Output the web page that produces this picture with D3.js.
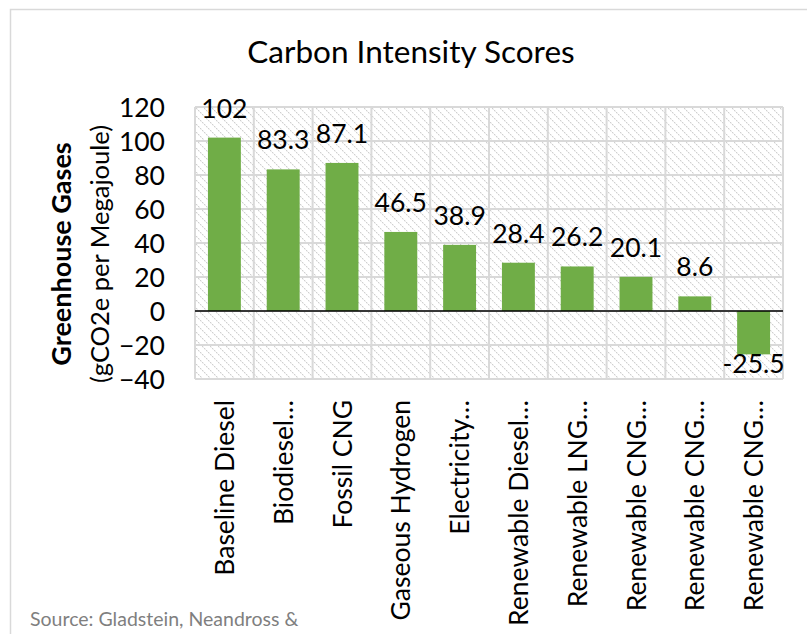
<!DOCTYPE html>
<html>
<head>
<meta charset="utf-8">
<script src="https://cdn.jsdelivr.net/npm/d3@7"></script>
<style>
  body { margin: 0; background: #fff; }
  text { font-family: Lato, "Open Sans", sans-serif; }
</style>
</head>
<body>
<div id="myDiv"></div>
<script>
// Chart data
var categories = ['Baseline Diesel', 'Biodiesel\u2026', 'Fossil CNG', 'Gaseous Hydrogen', 'Electricity\u2026',
  'Renewable Diesel\u2026', 'Renewable LNG\u2026', 'Renewable CNG\u2026', 'Renewable CNG\u2026', 'Renewable CNG\u2026'];
var values = [102, 83.3, 87.1, 46.5, 38.9, 28.4, 26.2, 20.1, 8.6, -25.5];
var valueLabels = ['102', '83.3', '87.1', '46.5', '38.9', '28.4', '26.2', '20.1', '8.6', '-25.5'];
var yTicks = [-40, -20, 0, 20, 40, 60, 80, 100, 120];

var chartTitle = 'Carbon Intensity Scores';
var yTitleBold = 'Greenhouse Gases';
var yTitleSub = '(gCO2e per Megajoule)';
var sourceText = 'Source: Gladstein, Neandross &';

var barColor = '#70ad47';
var gridColor = '#d9d9d9';
var labelSize = '26.5px';

var W = 807, H = 634;
var plot = {left: 195, top: 107, right: 783, bottom: 379};

var svg = d3.select('#myDiv').append('svg')
  .attr('width', W)
  .attr('height', H);

// hatch pattern for the plot area
var defs = svg.append('defs');
var pat = defs.append('pattern')
  .attr('id', 'hatch')
  .attr('patternUnits', 'userSpaceOnUse')
  .attr('width', 8)
  .attr('height', 8);
pat.append('rect').attr('width', 8).attr('height', 8).attr('fill', '#fff');
d3.range(0, 8, 2).forEach(function(i) {
  pat.append('rect').attr('x', i).attr('y', i).attr('width', 1.2).attr('height', 1.2).attr('fill', '#cfcfcf');
  pat.append('rect').attr('x', i + 1).attr('y', i + 1).attr('width', 1).attr('height', 1).attr('fill', '#ebebeb');
});

// outer chart border
svg.append('rect')
  .attr('x', 10.5).attr('y', 9.5)
  .attr('width', W + 20).attr('height', H + 20)
  .attr('fill', 'none')
  .attr('stroke', gridColor)
  .attr('stroke-width', 1.5);

// scales
var x = d3.scaleBand()
  .domain(d3.range(categories.length))
  .range([plot.left, plot.right])
  .paddingInner(0.44)
  .paddingOuter(0.22);

var xCell = d3.scaleBand()
  .domain(d3.range(categories.length))
  .range([plot.left, plot.right]);

var y = d3.scaleLinear()
  .domain([d3.min(yTicks), d3.max(yTicks)])
  .range([plot.bottom, plot.top]);

// plot background
svg.append('rect')
  .attr('x', plot.left).attr('y', plot.top)
  .attr('width', plot.right - plot.left)
  .attr('height', plot.bottom - plot.top)
  .attr('fill', 'url(#hatch)');

// horizontal gridlines
svg.append('g')
  .selectAll('line')
  .data(yTicks)
  .enter().append('line')
    .attr('x1', plot.left).attr('x2', plot.right)
    .attr('y1', function(d) { return y(d); })
    .attr('y2', function(d) { return y(d); })
    .attr('stroke', gridColor)
    .attr('stroke-width', 2);

// vertical gridlines (category boundaries)
var bounds = d3.range(categories.length + 1).map(function(i) {
  return i < categories.length ? xCell(i) : plot.right;
});
svg.append('g')
  .selectAll('line')
  .data(bounds)
  .enter().append('line')
    .attr('x1', function(d) { return d; })
    .attr('x2', function(d) { return d; })
    .attr('y1', plot.top).attr('y2', plot.bottom)
    .attr('stroke', gridColor)
    .attr('stroke-width', 2);

// bars
svg.append('g')
  .selectAll('rect')
  .data(values)
  .enter().append('rect')
    .attr('x', function(d, i) { return x(i); })
    .attr('y', function(d) { return y(Math.max(0, d)); })
    .attr('width', x.bandwidth())
    .attr('height', function(d) { return Math.abs(y(d) - y(0)); })
    .attr('fill', barColor);

// zero line
svg.append('line')
  .attr('x1', plot.left).attr('x2', plot.right)
  .attr('y1', y(0)).attr('y2', y(0))
  .attr('stroke', '#000')
  .attr('stroke-width', 1.5);

// data labels
svg.append('g')
  .selectAll('text')
  .data(values)
  .enter().append('text')
    .attr('x', function(d, i) { return x(i) + x.bandwidth() / 2; })
    .attr('y', function(d) { return d >= 0 ? y(d) - 20 : y(d) + 19; })
    .attr('text-anchor', 'middle')
    .style('font-size', labelSize)
    .style('fill', '#000')
    .text(function(d, i) { return valueLabels[i]; });

// y axis
var yAxisG = svg.append('g')
  .attr('transform', 'translate(' + plot.left + ',0)')
  .call(d3.axisLeft(y).tickValues(yTicks).tickSize(0).tickPadding(30));
yAxisG.select('.domain').remove();
yAxisG.selectAll('text')
  .style('font-size', labelSize)
  .style('font-family', 'Lato, sans-serif')
  .style('fill', '#000')
  .attr('dy', '0.36em');

// x axis labels
var xAxisG = svg.append('g')
  .attr('transform', 'translate(0,' + plot.bottom + ')')
  .call(d3.axisBottom(xCell).tickSize(0).tickFormat(function(i) { return categories[i]; }));
xAxisG.select('.domain').remove();
xAxisG.selectAll('text')
  .style('font-size', labelSize)
  .style('font-family', 'Lato, sans-serif')
  .style('fill', '#000')
  .attr('transform', 'rotate(-90)')
  .attr('text-anchor', 'end')
  .attr('x', -21)
  .attr('y', 0)
  .attr('dy', '0.36em');

// title
svg.append('text')
  .attr('x', 411)
  .attr('y', 63)
  .attr('text-anchor', 'middle')
  .style('font-size', '31.5px')
  .style('fill', '#000')
  .text(chartTitle);

// y axis title
var yTitle = svg.append('g')
  .attr('transform', 'translate(62,254) rotate(-90)');
yTitle.append('text')
  .attr('text-anchor', 'middle')
  .attr('dy', '0.35em')
  .style('font-size', '27px')
  .style('font-weight', 'bold')
  .text(yTitleBold);
yTitle.append('text')
  .attr('text-anchor', 'middle')
  .attr('y', 38)
  .attr('dy', '0.35em')
  .style('font-size', '25.5px')
  .text(yTitleSub);

// source note
svg.append('text')
  .attr('x', 30)
  .attr('y', 626)
  .style('font-size', '19.5px')
  .style('fill', '#7f7f7f')
  .text(sourceText);
</script>
</body>
</html>
